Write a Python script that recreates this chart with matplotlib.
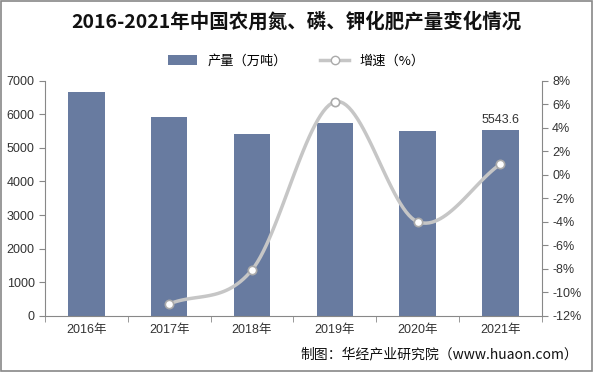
import numpy as np
import matplotlib
matplotlib.use("Agg")
import matplotlib.pyplot as plt
from matplotlib.lines import Line2D
from matplotlib.patches import Patch, Rectangle

plt.rcParams['font.family'] = ['Liberation Sans', 'Noto Sans CJK SC', 'DejaVu Sans']

years = ["2016年", "2017年", "2018年", "2019年", "2020年", "2021年"]
output = [6650, 5905, 5415, 5740, 5500, 5543.6]
growth = [None, -11.0, -8.1, 6.2, -4.0, 0.9]

bar_color = "#687BA0"
line_color = "#C6C6C6"

fig = plt.figure(figsize=(5.93, 3.72), dpi=100)

ax = fig.add_axes([0.0759, 0.1513, 0.8376, 0.6317])
x = np.arange(len(years))
ax.bar(x, output, width=0.44, color=bar_color, zorder=2)
ax.set_xlim(-0.5, len(years) - 0.5)
ax.set_ylim(0, 7000)
ax.set_yticks(range(0, 7001, 1000))
ax.set_xticks(x)
ax.set_xticklabels(years, fontsize=9, color="#333333")
ax.set_xticks(np.arange(-0.5, len(years)), minor=True)
ax.tick_params(axis='x', which='major', length=0, pad=6)
ax.tick_params(axis='x', which='minor', length=4, color="#888888")
ax.tick_params(axis='y', labelsize=9, length=4, color="#888888", labelcolor="#333333")
for s in ['top', 'right']:
    ax.spines[s].set_visible(False)
for s in ['left', 'bottom']:
    ax.spines[s].set_color("#888888")
ax.text(x[-1], output[-1] + 120, f"{output[-1]}", ha='center', va='bottom', fontsize=9, color="#333333")

ax2 = ax.twinx()
ax2.set_ylim(-12, 8)
ax2.set_yticks(range(-12, 9, 2))
ax2.set_yticklabels([f"{v}%" for v in range(-12, 9, 2)])
ax2.tick_params(axis='y', labelsize=9, length=4, color="#888888", labelcolor="#333333")
for s in ['top', 'left', 'bottom']:
    ax2.spines[s].set_visible(False)
ax2.spines['right'].set_color("#888888")

gx = np.array([i for i, g in enumerate(growth) if g is not None], dtype=float)
gy = np.array([g for g in growth if g is not None], dtype=float)

# Catmull-Rom smoothing for display (Excel-style smoothed line)
def catmull(px, py, n=30):
    P = np.column_stack([px, py])
    P = np.vstack([P[0] * 2 - P[1], P, P[-1] * 2 - P[-2]])
    out = []
    for i in range(1, len(P) - 2):
        p0, p1, p2, p3 = P[i - 1], P[i], P[i + 1], P[i + 2]
        t = np.linspace(0, 1, n)[:, None]
        seg = 0.5 * ((2 * p1) + (-p0 + p2) * t + (2 * p0 - 5 * p1 + 4 * p2 - p3) * t**2
                     + (-p0 + 3 * p1 - 3 * p2 + p3) * t**3)
        out.append(seg)
    S = np.vstack(out)
    return S[:, 0], S[:, 1]

sx, sy = catmull(gx, gy)
ax2.plot(sx, sy, color=line_color, lw=2.5, zorder=3, solid_capstyle='round')
ax2.plot(gx, gy, ls='none', marker='o', ms=6, mfc='white', mec="#AAAAAA", mew=1.2, zorder=4)

fig.text(0.5, 0.94, "2016-2021年中国农用氮、磷、钾化肥产量变化情况", ha='center', va='center',
         fontsize=14, fontweight='bold', family=['Noto Sans CJK SC'], color="#111111")

handles = [Patch(facecolor=bar_color, edgecolor='none'),
           Line2D([0], [0], color=line_color, lw=2.5, marker='o', ms=6, mfc='white', mec="#AAAAAA")]
fig.legend(handles, ["产量（万吨）", "增速（%）"], loc='center', bbox_to_anchor=(0.5, 0.836), ncol=2,
           frameon=False, handlelength=2.2, columnspacing=2.5,
           prop={'family': ['Noto Sans CJK SC', 'DejaVu Sans'], 'size': 9.5})

fig.text(0.975, 0.048, "制图：华经产业研究院（www.huaon.com）", ha='right', va='center', fontsize=10,
         family=['Noto Sans CJK SC', 'DejaVu Sans'], color="#111111")

fig.patches.append(Rectangle((0.002, 0.003), 0.996, 0.994, transform=fig.transFigure,
                             fill=False, edgecolor="#888888", lw=1.2))

fig.savefig("out.png", dpi=100)
